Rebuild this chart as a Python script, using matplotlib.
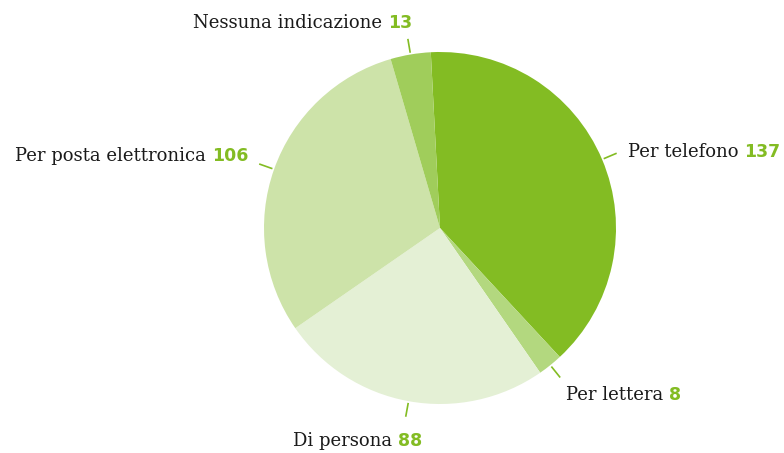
import numpy as np
import matplotlib.pyplot as plt

labels = ['Per telefono', 'Per lettera', 'Di persona', 'Per posta elettronica', 'Nessuna indicazione']
values = [137, 8, 88, 106, 13]
colors = ['#83bc23', '#b3d87f', '#e4f0d5', '#cde3a9', '#a0cd5b']
green = '#83bc23'

fig = plt.figure(figsize=(7.84, 4.53), dpi=100)
ax = fig.add_axes([0, 0, 1, 1])
ax.pie(values, colors=colors, startangle=93, counterclock=False,
       radius=1.0, center=(0, 0), frame=True,
       wedgeprops=dict(linewidth=0))
ax.set_xlim(-440 / 176, (784 - 440) / 176)
ax.set_ylim(-(453 - 228) / 176, 228 / 176)
ax.set_aspect('equal')
ax.axis('off')

# text placement (offsets in points from leader end), alignment
place = {
    'Per telefono': ((8, -3), 'left'),
    'Per lettera': ((4, -16), 'left'),
    'Di persona': ((-81, -21), 'left'),
    'Per posta elettronica': ((-8, 2), 'right'),
    'Nessuna indicazione': ((3, 8), 'right'),
}

total = sum(values)
start = 93
for lab, val in zip(labels, values):
    span = 360 * val / total
    mid = np.deg2rad(start - span / 2)
    start -= span
    x0, y0 = np.cos(mid) * 1.01, np.sin(mid) * 1.01
    x1, y1 = np.cos(mid) * 1.09, np.sin(mid) * 1.09
    ax.plot([x0, x1], [y0, y1], color=green, lw=1.2, solid_capstyle='butt')
    (dx, dy), ha = place[lab]
    if ha == 'left':
        t = ax.annotate(lab + ' ', xy=(x1, y1), xytext=(dx, dy), textcoords='offset points',
                        ha='left', va='baseline', fontsize=13, family='DejaVu Serif', color='#1a1a1a')
        ax.annotate(str(val), xy=(1, 0), xycoords=t, ha='left', va='bottom',
                    fontsize=12.5, family='DejaVu Sans', weight='bold', color=green)
    else:
        n = ax.annotate(str(val), xy=(x1, y1), xytext=(dx, dy), textcoords='offset points',
                        ha='right', va='baseline', fontsize=12.5, family='DejaVu Sans',
                        weight='bold', color=green)
        ax.annotate(lab + ' ', xy=(0, 0), xycoords=n, ha='right', va='bottom',
                    fontsize=13, family='DejaVu Serif', color='#1a1a1a')

fig.savefig('out.png', dpi=100)
